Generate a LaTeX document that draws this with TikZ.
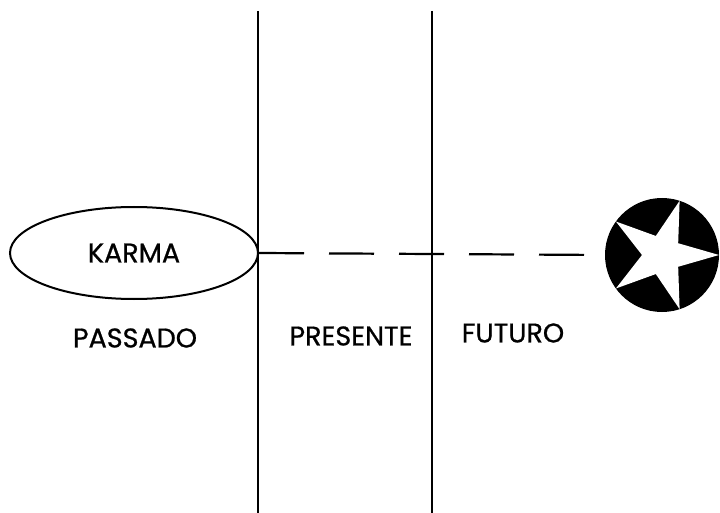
\documentclass[tikz,border=0pt]{standalone}
\usepackage{fontspec}
\setmainfont{Poppins}
\newfontfamily\grossa{Poppins}[FakeBold=0.8]
\usetikzlibrary{shapes.geometric}

\tikzset{
  divisa/.style={line width=2.2pt},
  rotulo/.style={font=\grossa\fontsize{27}{30}\selectfont, inner sep=0pt}
}

\begin{document}
\begin{tikzpicture}[x=1pt, y=-1pt]
\useasboundingbox (0,0) rectangle (720,513);
% divisoes do tempo
\coordinate (l1t) at (258,11);
\coordinate (l1b) at (258,513);
\coordinate (l2t) at (432,11);
\coordinate (l2b) at (432,513);
\draw[divisa] (l1t) -- (l1b);
\draw[divisa] (l2t) -- (l2b);
\node[draw, ellipse, line width=2pt, minimum width=248, minimum height=92, inner sep=0pt, rotulo] (karma) at (134,253) {KARMA};
\node[circle, fill=black, minimum size=114, inner sep=0pt] (sol) at (662,255) {};
% estrela branca
\fill[white, shift={(sol.center)}] plot[samples at={0,36,...,324}] (\x:{mod(\x,72)==0 ? 57 : 20}) -- cycle;
\node[rotulo] (passado) at (135,338) {PASSADO};
\node[rotulo] (presente) at (351,336) {PRESENTE};
\node[rotulo] (futuro) at (513,333) {FUTURO};
\draw[line width=2.2pt, dash pattern=on 45pt off 25pt] (karma.east) -- (sol.west);
\end{tikzpicture}
\end{document}
